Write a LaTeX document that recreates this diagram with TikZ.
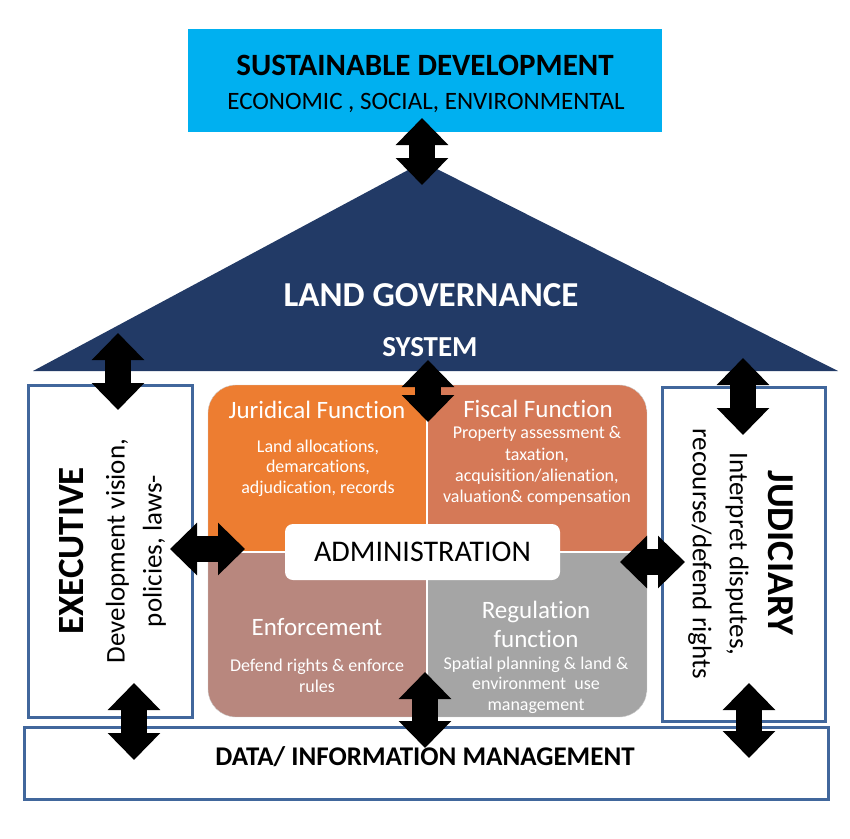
\documentclass[tikz,border=0pt]{standalone}
\usepackage{fontspec}
\setmainfont{Carlito}[Ligatures=NoCommon]
\usepackage{xcolor}
\usetikzlibrary{arrows.meta}
\definecolor{skyblue}{HTML}{00B0F0}
\definecolor{roofblue}{HTML}{223A66}
\definecolor{frameblue}{HTML}{41679C}
\definecolor{jurorange}{HTML}{ED7D31}
\definecolor{fiscred}{HTML}{D57957}
\definecolor{enfbrown}{HTML}{B8877E}
\definecolor{reggray}{HTML}{A5A5A5}

\begin{document}
\begin{tikzpicture}[x=1pt, y=-1pt,
    box/.style={draw=frameblue, line width=3pt, fill=white, inner sep=0pt},
    wtext/.style={text=white, align=center, inner sep=0pt},
    btext/.style={align=center, inner sep=0pt},
    biarrow/.style={line width=26pt, {Triangle[length=27pt,width=51pt]}-{Triangle[length=27pt,width=51pt]}}]
    \useasboundingbox (0,0) rectangle (850,838);
    \fill[roofblue] (33,371) -- (423,162) -- (838,371) -- cycle;
    \node[fill=skyblue, minimum width=474pt, minimum height=103pt] (a) at (425,80.5) {};
    \node[btext, font=\fontsize{31}{35}\selectfont\bfseries] (a1) at (425,65) {SUSTAINABLE DEVELOPMENT};
    \node[btext, font=\fontsize{25}{30}\selectfont] (a2) at (426,103) {ECONOMIC , SOCIAL, ENVIRONMENTAL};
    \node[wtext, font=\fontsize{35}{40}\selectfont\bfseries] (g1) at (431,295) {LAND GOVERNANCE};
    \node[wtext, font=\fontsize{29}{34}\selectfont\bfseries] (g2) at (430,347) {SYSTEM};
    \node[box, minimum width=164pt, minimum height=332pt] (e) at (110,551) {};
    \node[btext, rotate=90, font=\fontsize{37}{40}\selectfont\bfseries] (e1) at (72,551) {EXECUTIVE};
    \node[btext, rotate=90, font=\fontsize{27}{37}\selectfont] (e2) at (136,551) {Development vision,\\policies, laws-};
    \node[box, minimum width=163pt, minimum height=334pt] (j) at (743.5,554) {};
    \node[btext, rotate=-90, font=\fontsize{38}{40}\selectfont\bfseries] (j1) at (781,553) {JUDICIARY};
    \node[btext, rotate=-90, font=\fontsize{27}{37}\selectfont] (j2) at (718.5,554) {Interpret disputes,\\recourse/defend rights};
    \node[box, minimum width=804pt, minimum height=72pt] (d) at (426,763) {};
    \node[btext, font=\fontsize{27}{32}\selectfont\bfseries] (d1) at (425,757) {DATA/ INFORMATION MANAGEMENT};
    \begin{scope}
        \clip[rounded corners=28pt] (208,385) rectangle (647,717);
        \fill[jurorange] (208,385) rectangle (427,552);
        \fill[fiscred] (427,385) rectangle (647,552);
        \fill[enfbrown] (208,552) rectangle (427,717);
        \fill[reggray] (427,552) rectangle (647,717);
        \draw[white, line width=2pt] (427,385) -- (427,717) (208,552) -- (647,552);
    \end{scope}
    \draw[black!20, rounded corners=28pt] (208,385) rectangle (647,717);
    \node[fill=white, rounded corners=8pt, minimum width=275pt, minimum height=56pt, font=\fontsize{30}{36}\selectfont] (m) at (422.5,552) {ADMINISTRATION};
    \node[wtext, font=\fontsize{25}{29}\selectfont] (q1) at (317,410) {Juridical Function};
    \node[wtext, font=\fontsize{18}{20.5}\selectfont] (q1b) at (318,468) {Land allocations,\\demarcations,\\adjudication, records};
    \node[wtext, font=\fontsize{25}{29}\selectfont] (q2) at (538,409) {Fiscal Function};
    \node[wtext, font=\fontsize{18}{21.3}\selectfont] (q2b) at (537,466) {Property assessment \&\\taxation,\\acquisition/alienation,\\valuation\& compensation};
    \node[wtext, font=\fontsize{25}{29}\selectfont] (q3) at (317,627) {Enforcement};
    \node[wtext, font=\fontsize{18}{20.5}\selectfont] (q3b) at (317,676) {Defend rights \& enforce\\rules};
    \node[wtext, font=\fontsize{25}{29}\selectfont] (q4) at (536,624) {Regulation\\function};
    \node[wtext, font=\fontsize{18}{20.5}\selectfont] (q4b) at (536,685) {Spatial planning \& land \&\\environment~ use\\management};
    \coordinate (t1) at (422,118);
    \coordinate (t2) at (422,185);
    \coordinate (l1) at (118,333);
    \coordinate (l2) at (118,410);
    \coordinate (c1) at (428,360);
    \coordinate (c2) at (428,422);
    \coordinate (r1) at (743,358);
    \coordinate (r2) at (743,435);
    \coordinate (h1) at (170,549);
    \coordinate (h2) at (245,549);
    \coordinate (h3) at (620,562);
    \coordinate (h4) at (685,562);
    \coordinate (b1) at (134,683);
    \coordinate (b2) at (134,760);
    \coordinate (b3) at (425,672);
    \coordinate (b4) at (425,748);
    \coordinate (b5) at (749,683);
    \coordinate (b6) at (749,758);
    \draw [biarrow] (t1) to (t2);
    \draw [biarrow] (l1) to (l2);
    \draw [biarrow] (c1) to (c2);
    \draw [biarrow] (r1) to (r2);
    \draw [biarrow] (h1) to (h2);
    \draw [biarrow] (h3) to (h4);
    \draw [biarrow] (b1) to (b2);
    \draw [biarrow] (b3) to (b4);
    \draw [biarrow] (b5) to (b6);
\end{tikzpicture}
\end{document}
